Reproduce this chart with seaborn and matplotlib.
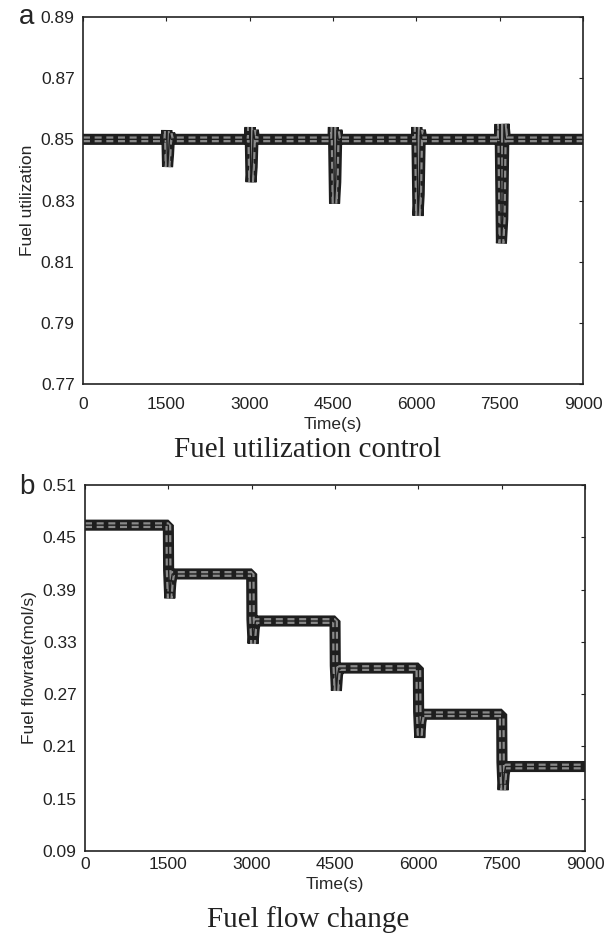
#!/usr/bin/env python3
"""Fuel utilization control / fuel flow change step-response figure."""
import matplotlib
matplotlib.use("Agg")
import matplotlib.pyplot as plt
import pandas as pd
import seaborn as sns

# panel a: fuel utilization, dips after each load step
time_a = [0, 1500, 1508, 1522, 1540, 1560, 1585,
          3000, 3008, 3025, 3045, 3065, 3090,
          4500, 4508, 4528, 4550, 4570, 4595,
          6000, 6008, 6030, 6052, 6072, 6100,
          7500, 7508, 7532, 7556, 7578, 7605, 9000]
util_a = [0.850, 0.850, 0.853, 0.841, 0.845, 0.852, 0.850,
          0.850, 0.854, 0.836, 0.841, 0.853, 0.850,
          0.850, 0.854, 0.829, 0.836, 0.853, 0.850,
          0.850, 0.854, 0.825, 0.832, 0.853, 0.850,
          0.850, 0.855, 0.816, 0.824, 0.855, 0.850, 0.850]

# panel b: fuel flowrate steps with undershoot
time_b = [0, 1500, 1505, 1525, 1545, 1570,
          3000, 3005, 3025, 3045, 3070,
          4500, 4505, 4525, 4545, 4570,
          6000, 6005, 6025, 6045, 6070,
          7500, 7505, 7525, 7545, 7570, 9000]
flow_b = [0.464, 0.464, 0.412, 0.380, 0.398, 0.408,
          0.408, 0.356, 0.328, 0.345, 0.354,
          0.354, 0.303, 0.274, 0.292, 0.300,
          0.300, 0.250, 0.220, 0.238, 0.247,
          0.247, 0.192, 0.160, 0.178, 0.187, 0.187]

x_ticks = [0, 1500, 3000, 4500, 6000, 7500, 9000]
y_ticks_a = [0.77, 0.79, 0.81, 0.83, 0.85, 0.87, 0.89]
y_ticks_b = [0.09, 0.15, 0.21, 0.27, 0.33, 0.39, 0.45, 0.51]

sns.set_style("white")
plt.rcParams["font.family"] = ["Liberation Sans", "DejaVu Sans"]

fig = plt.figure(figsize=(6.16, 9.35), dpi=100)
ax_a = fig.add_axes([0.1347, 0.5893, 0.8117, 0.3925])
ax_b = fig.add_axes([0.1380, 0.0898, 0.8117, 0.3914])


def band_line(ax, df, x, y):
    # thick dark band with grey dashes inside, like the original print
    sns.lineplot(data=df, x=x, y=y, ax=ax, color="#1e1e1e", lw=8,
                 solid_joinstyle="bevel", solid_capstyle="butt",
                 estimator=None, sort=False)
    ax.plot(df[x], df[y], color="#8a8a8a", lw=4.2, dashes=(1.2, 0.8),
            dash_joinstyle="bevel")
    ax.plot(df[x], df[y], color="#1e1e1e", lw=1.0, solid_joinstyle="bevel")


df_a = pd.DataFrame({"t": time_a, "u": util_a})
df_b = pd.DataFrame({"t": time_b, "f": flow_b})
band_line(ax_a, df_a, "t", "u")
band_line(ax_b, df_b, "t", "f")

for ax, yt, label, xpad in [(ax_a, y_ticks_a, "Fuel utilization", 9),
                            (ax_b, y_ticks_b, "Fuel flowrate(mol/s)", 4)]:
    ax.set_xlim(0, 9000)
    ax.set_ylim(yt[0], yt[-1])
    ax.set_xticks(x_ticks)
    ax.set_yticks(yt)
    ax.set_yticklabels([f"{v:.2f}" for v in yt])
    ax.tick_params(direction="in", length=3, width=0.8, labelsize=12.5,
                   top=True, right=True, colors="#222222", labelcolor="#222222")
    ax.tick_params(axis="y", pad=6)
    ax.tick_params(axis="x", pad=xpad)
    ax.set_xlabel("Time(s)", fontsize=12.5, labelpad=4)
    ax.set_ylabel(label, fontsize=12.5, labelpad=4)
    for s in ax.spines.values():
        s.set_linewidth(1.2)
        s.set_color("#222222")

fig.text(0.5, 1 - 450 / 935, "Fuel utilization control", ha="center",
         va="center", fontsize=21, family=["Liberation Serif"], color="#222222")
fig.text(0.5, 1 - 920 / 935, "Fuel flow change", ha="center",
         va="center", fontsize=21, family=["Liberation Serif"], color="#222222")
fig.text(27 / 616, 1 - 17 / 935, "a", ha="center", va="center", fontsize=20)
fig.text(27 / 616, 1 - 487 / 935, "b", ha="center", va="center", fontsize=20)

fig.savefig("out.png", dpi=100)
plt.close(fig)
